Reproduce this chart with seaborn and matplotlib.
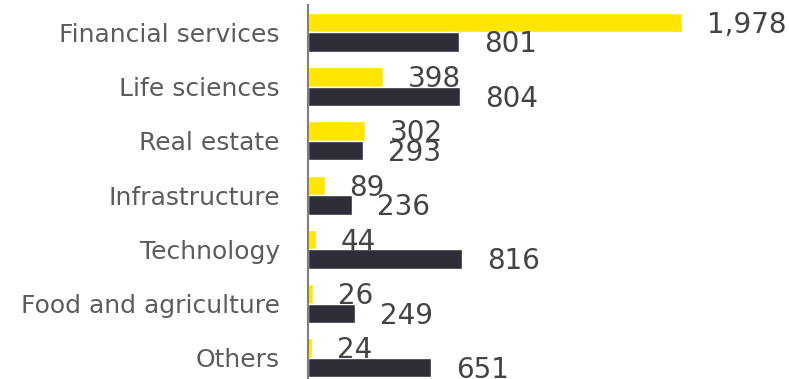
import matplotlib
matplotlib.use("Agg")
import matplotlib.pyplot as plt
import seaborn as sns
import pandas as pd

categories = ["Financial services", "Life sciences", "Real estate", "Infrastructure",
              "Technology", "Food and agriculture", "Others"]
series_names = ["Period 1", "Period 2"]
values_first = [1978, 398, 302, 89, 44, 26, 24]
values_second = [801, 804, 293, 236, 816, 249, 651]

df = pd.DataFrame({
    "category": categories * 2,
    "series": [series_names[0]] * len(categories) + [series_names[1]] * len(categories),
    "value": values_first + values_second,
})

sns.set_theme(style="white")
plt.rcParams["font.family"] = ["DejaVu Sans"]

fig = plt.figure(figsize=(7.89, 3.79), dpi=100)
ax = fig.add_axes([0.39, -0.016, 0.61, 1.002])

sns.barplot(data=df, y="category", x="value", hue="series", orient="h",
            palette=["#FFE600", "#2E2E38"], width=0.72, ax=ax,
            legend=False, saturation=1, errorbar=None)

# value labels just past the end of each bar, nudged slightly below centre
for container in ax.containers:
    anns = ax.bar_label(container, labels=[f"{v:,.0f}" for v in container.datavalues],
                        padding=18, fontsize=20, color="#444444")
    for ann in anns:
        ann.xyann = (18, -1.5)

ax.set_xlim(0, 2545)
ax.set_xlabel("")
ax.set_ylabel("")
ax.set_xticks([])
ax.tick_params(axis="y", length=0, pad=20, labelsize=18, labelcolor="#5c5c5c")
for side in ["top", "right", "bottom"]:
    ax.spines[side].set_visible(False)
ax.spines["left"].set_color("#7f7f7f")
ax.spines["left"].set_linewidth(1.5)

fig.savefig("out.png", dpi=100)
